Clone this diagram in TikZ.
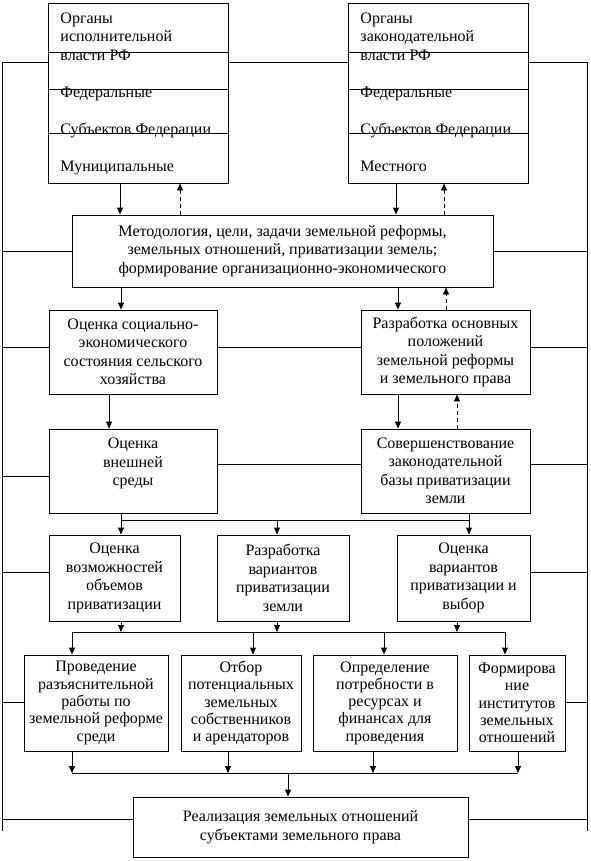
\documentclass[tikz,border=0pt]{standalone}
\usepackage{fontspec}
\setmainfont{Liberation Serif}
\usepackage{tikz}
\usetikzlibrary{arrows.meta}

\begin{document}
\begin{tikzpicture}[x=1pt,y=-1pt,line width=0.9pt,
    box/.style={draw,align=center,inner sep=1pt,font=\fontsize{16}{18.5}\selectfont},
    lbl/.style={align=left,inner sep=0pt,font=\fontsize{16}{18.5}\selectfont},
    arr/.style={-{Triangle[length=7pt,width=6pt]}},
    back/.style={-{Triangle[length=7pt,width=6pt]},dash pattern=on 4pt off 3pt}
]
\useasboundingbox (0,0) rectangle (590,861);

% organs of power
\node[draw,minimum width=180pt,minimum height=180pt] (exec) at (138,93) {};
\node[draw,minimum width=180pt,minimum height=180pt] (legis) at (438,93) {};
\foreach \y in {52,89,133} {
  \draw (exec.west |- 0,\y) -- (exec.east |- 0,\y);
  \draw (legis.west |- 0,\y) -- (legis.east |- 0,\y);
}
\node[lbl,anchor=north west] (exectxt) at (60,12) {Органы\\исполнительной\\власти РФ\\[18.5pt]Федеральные\\[18.5pt]Субъектов Федерации\\[18.5pt]Муниципальные};
\node[lbl,anchor=north west] (legistxt) at (360,12) {Органы\\законодательной\\власти РФ\\[18.5pt]Федеральные\\[18.5pt]Субъектов Федерации\\[18.5pt]Местного};

% main blocks
\node[box,minimum width=421pt,minimum height=72pt] (meth) at (282.5,251) {Методология, цели, задачи земельной реформы,\\земельных отношений, приватизации земель;\\формирование организационно-экономического};
\node[box,minimum width=168pt,minimum height=84pt] (soc) at (133,352) {Оценка социально-\\экономического\\состояния сельского\\хозяйства};
\node[box,minimum width=169pt,minimum height=84pt] (osn) at (445.5,352) {Разработка основных\\положений\\земельной реформы\\и земельного права};
\node[box,minimum width=168pt,minimum height=84pt] (sreda) at (133,471) {Оценка\\внешней\\среды\\~};
\node[box,minimum width=169pt,minimum height=84pt] (zakon) at (445.5,471) {Совершенствование\\законодательной\\базы приватизации\\земли};
\node[box,minimum width=131pt,minimum height=86pt] (vozm) at (114.5,578) {Оценка\\возможностей\\объемов\\приватизации};
\node[box,minimum width=132pt,minimum height=86pt] (var) at (283,578) {Разработка\\вариантов\\приватизации\\земли};
\node[box,minimum width=133pt,minimum height=86pt] (vybor) at (463.5,578) {Оценка\\вариантов\\приватизации и\\выбор};
\node[box,minimum width=144pt,minimum height=96pt,font=\fontsize{16}{17.3}\selectfont] (razy) at (96,703) {Проведение\\разъяснительной\\работы по\\земельной реформе\\среди};
\node[box,minimum width=120pt,minimum height=96pt,font=\fontsize{16}{17.3}\selectfont] (otbor) at (241,703) {Отбор\\потенциальных\\земельных\\собственников\\и арендаторов};
\node[box,minimum width=144pt,minimum height=96pt,font=\fontsize{16}{17.3}\selectfont] (potr) at (385,703) {Определение\\потребности в\\ресурсах  и\\финансах для\\проведения};
\node[box,minimum width=96pt,minimum height=96pt,font=\fontsize{16}{17.3}\selectfont] (inst) at (517,703) {Формирова\\ние\\институтов\\земельных\\отношений};
\node[box,minimum width=335pt,minimum height=60pt] (real) at (300.5,827) {Реализация земельных отношений\\субъектами земельного права};

% side rails
\coordinate (lt) at (2,62);
\coordinate (lb) at (2,831);
\coordinate (rt) at (587,62);
\coordinate (rb) at (587,831);
\draw (lt) -- (lb);
\draw (rt) -- (rb);
\draw (lt) -- (exec.west |- lt);
\draw (exec.east |- lt) -- (legis.west |- lt);
\draw (legis.east |- lt) -- (rt);
\draw (lt |- meth.west) -- (meth.west);
\draw (meth.east) -- (rt |- meth.east);
\draw (lt |- 0,347) -- (soc.west |- 0,347);
\draw (soc.east |- 0,347) -- (osn.west |- 0,347);
\draw (osn.east |- 0,347) -- (rt |- 0,347);
\draw (lt |- 0,476) -- (sreda.west |- 0,476);
\draw (sreda.east |- 0,464) -- (zakon.west |- 0,464);
\draw (zakon.east |- 0,464) -- (rt |- 0,464);
\draw (lt |- 0,572) -- (vozm.west |- 0,572);
\draw (vybor.east |- 0,572) -- (rt |- 0,572);
\draw (lt |- 0,702) -- (razy.west |- 0,702);
\draw (inst.east |- 0,702) -- (rt |- 0,702);
\draw (lt |- 0,819) -- (real.west |- 0,819);
\draw (real.east |- 0,819) -- (rt |- 0,819);

% top links
\draw[arr] (exec.south -| 120,0) -- (meth.north -| 120,0);
\draw[back] (meth.north -| 180,0) -- (exec.south -| 180,0);
\draw[arr] (legis.south -| 396,0) -- (meth.north -| 396,0);
\draw[back] (meth.north -| 444,0) -- (legis.south -| 444,0);
\draw[arr] (meth.south -| 121,0) -- (soc.north -| 121,0);
\draw[arr] (meth.south -| 398,0) -- (osn.north -| 398,0);
\draw[back] (osn.north -| 446,0) -- (meth.south -| 446,0);
\draw[arr] (soc.south -| 109,0) -- (sreda.north -| 109,0);
\draw[arr] (osn.south -| 398,0) -- (zakon.north -| 398,0);
\draw[back] (zakon.north -| 457,0) -- (osn.south -| 457,0);

% first bus
\coordinate (busa) at (277,520);
\draw (sreda.south -| 121,0) -- (121,520) -- (469,520) -- (zakon.south -| 469,0);
\draw[arr] (121,520) -- (vozm.north -| 121,0);
\draw[arr] (busa) -- (var.north -| busa);
\draw[arr] (469,520) -- (vybor.north -| 469,0);

% second bus
\coordinate (busb) at (0,632);
\draw (72,632) -- (505,632);
\draw[arr] (vozm.south -| 121,0) -- (busb -| 121,0);
\draw[arr] (var.south -| 277,0) -- (busb -| 277,0);
\draw[arr] (vybor.south -| 457,0) -- (busb -| 457,0);
\draw[arr] (busb -| 72,0) -- (razy.north -| 72,0);
\draw[arr] (busb -| 253,0) -- (otbor.north -| 253,0);
\draw[arr] (busb -| 384,0) -- (potr.north -| 384,0);
\draw[arr] (busb -| 505,0) -- (inst.north -| 505,0);

% third bus
\coordinate (busc) at (288,773);
\draw (72,773) -- (518,773);
\draw[arr] (razy.south -| 72,0) -- (busc -| 72,0);
\draw[arr] (otbor.south -| 228,0) -- (busc -| 228,0);
\draw[arr] (potr.south -| 373,0) -- (busc -| 373,0);
\draw[arr] (inst.south -| 518,0) -- (busc -| 518,0);
\draw[arr] (busc) -- (real.north -| busc);
\end{tikzpicture}
\end{document}
